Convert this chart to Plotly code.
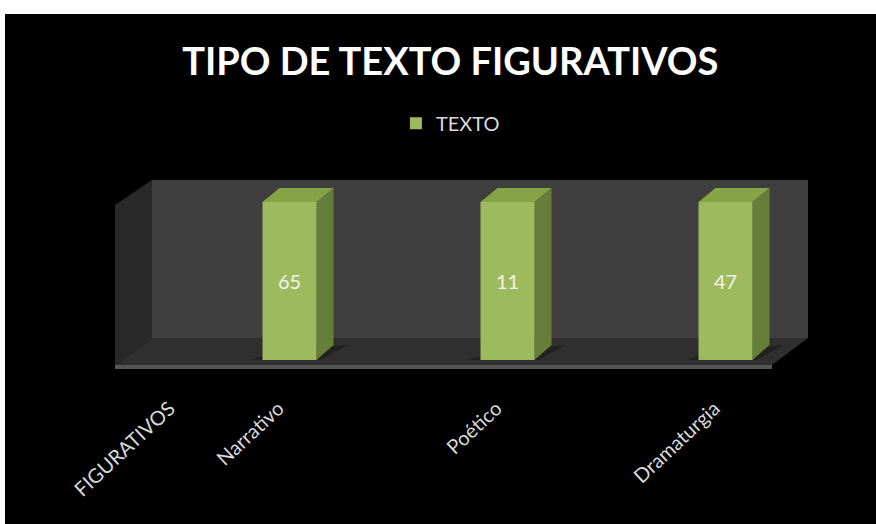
import plotly.graph_objects as go

# ---- data ----
CATEGORIES = ["FIGURATIVOS", "Narrativo", "", "Poético", "", "Dramaturgia"]
BAR_POSITIONS = [1, 3, 5]
SERIES_NAME = "TEXTO"
VALUES = [65, 11, 47]
TITLE = "TIPO DE TEXTO FIGURATIVOS"

# ---- style / geometry of the pseudo-3D frame (pixels of the page) ----
W, H = 876, 524
L, R, T, B = 115, 808, 180, 369
STEP = 109              # pixels per category
PER_PCT = 1.58          # pixels per percent
BASE_PX = 360
BAR_PX = 54
BAR_SHIFT = 16          # bar's left edge relative to its tick
DX, DY = 17, 15         # depth of bars in pixels

XMIN = -0.5
XMAX = XMIN + (R - L) / STEP
YMIN = -(B - BASE_PX) / PER_PCT
YMAX = (BASE_PX - T) / PER_PCT


def xd(px):
    return XMIN + (px - L) / STEP


def yd(py):
    return (BASE_PX - py) / PER_PCT


def poly(points, fill):
    path = "M " + " L ".join(f"{xd(x):.4f},{yd(y):.4f}" for x, y in points) + " Z"
    return dict(type="path", path=path, xref="x", yref="y", layer="below",
                fillcolor=fill, line=dict(width=0))


shapes = [
    # black panel on the white page
    dict(type="rect", xref="paper", yref="paper",
         x0=(5 - L) / (R - L), x1=(W - L) / (R - L),
         y0=(B - H) / (B - T), y1=(B - 14) / (B - T),
         layer="below", fillcolor="#000000", line=dict(width=0)),
    poly([(152, 180), (808, 180), (808, 338), (152, 338)], "#3F3F3F"),
    poly([(115, 205), (152, 180), (152, 338), (115, 365)], "#292929"),
    poly([(115, 365), (152, 338), (808, 338), (772, 365)], "#2F2F2F"),
    poly([(115, 365), (772, 365), (772, 369), (115, 369)], "#555555"),
]

for pos in BAR_POSITIONS:
    x0 = L + (pos - XMIN) * STEP - BAR_SHIFT
    x1 = x0 + BAR_PX
    top = BASE_PX - 100 * PER_PCT   # every bar fills the 100 % stack
    shapes += [
        poly([(x0 - 12, BASE_PX), (x0 + 5, BASE_PX - 6), (x1 + DX + 14, BASE_PX - 15),
              (x1 + 4, BASE_PX)], "#222222"),
        poly([(x1, BASE_PX), (x1 + DX, BASE_PX - DY), (x1 + DX, top - DY + 1), (x1, top)], "#677E3B"),
        poly([(x0, top), (x0 + DX, top - DY + 1), (x1 + DX, top - DY + 1), (x1, top)], "#86A346"),
    ]

fig = go.Figure(
    go.Bar(
        x=BAR_POSITIONS,
        y=VALUES,
        name=SERIES_NAME,
        width=BAR_PX / STEP,
        offset=-BAR_SHIFT / STEP,
        marker=dict(color="#9DBB5C", line=dict(width=0)),
        text=[str(v) for v in VALUES],
        textposition="inside",
        insidetextanchor="middle",
        textangle=0,
        textfont=dict(family="Lato", size=20, color="#F2F2F2"),
        showlegend=True,
    )
)

fig.update_layout(
    width=W,
    height=H,
    barnorm="percent",
    paper_bgcolor="#FFFFFF",
    plot_bgcolor="rgba(0,0,0,0)",
    margin=dict(l=L, r=W - R, t=T, b=H - B, pad=0),
    title=dict(text=f"<b>{TITLE}</b>", x=0.514, xanchor="center", y=0.882, yanchor="middle",
               font=dict(family="Lato", size=38, color="#FFFFFF")),
    legend=dict(orientation="h", x=0.484, xanchor="center", y=1.30, yanchor="middle",
                font=dict(family="Lato", size=20, color="#D9D9D9"),
                bgcolor="rgba(0,0,0,0)"),
    xaxis=dict(
        range=[XMIN, XMAX],
        tickmode="array",
        tickvals=list(range(len(CATEGORIES))),
        ticktext=CATEGORIES,
        tickangle=-43,
        ticklen=0,
        showgrid=False,
        zeroline=False,
        showline=False,
        ticklabelstandoff=23,
        tickfont=dict(family="Lato", size=20, color="#D9D9D9"),
    ),
    yaxis=dict(range=[YMIN, YMAX], visible=False, showgrid=False, zeroline=False),
    shapes=shapes,
)

fig.write_html("out.html", config={"displayModeBar": False},
               post_script="document.body.style.margin='0';")
